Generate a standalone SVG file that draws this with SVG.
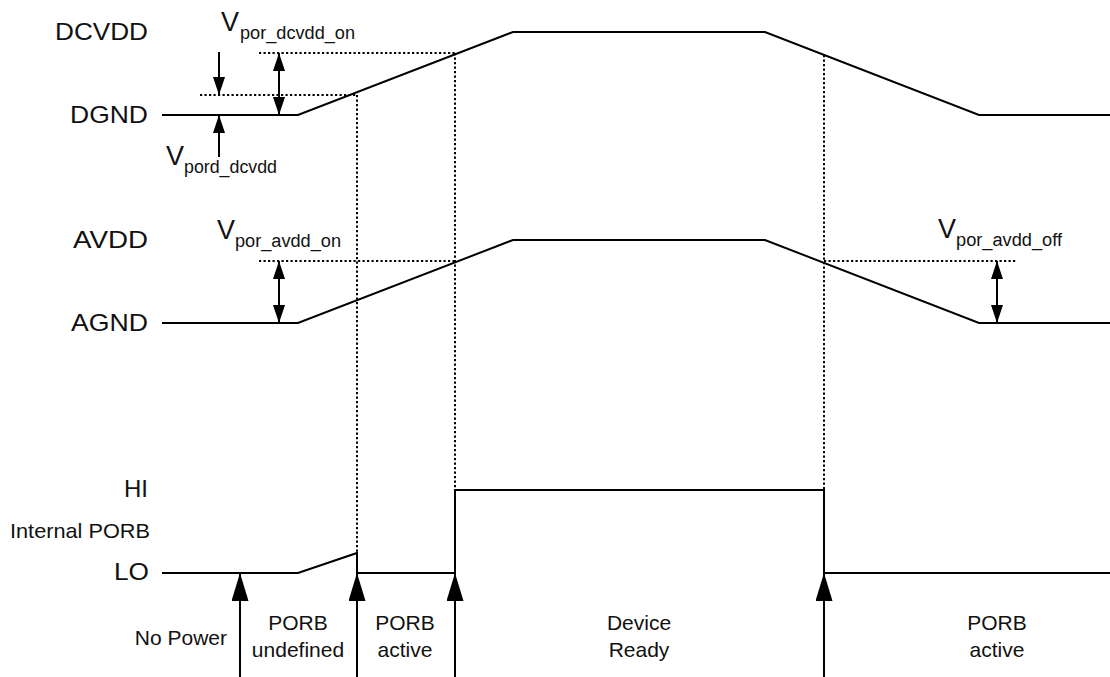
<svg xmlns="http://www.w3.org/2000/svg" width="1110" height="677" viewBox="0 0 1110 677">
<style>
  text { font-family: "Liberation Sans", Arial, sans-serif; fill: #111; }
  .lbl { font-size: 24px; }
  .sm { font-size: 21px; }
  .v { font-size: 27px; }
  .sub { font-size: 18px; }
  .sig { fill: none; stroke: #000; stroke-width: 2; stroke-linejoin: miter; }
  .dot { fill: none; stroke: #000; stroke-width: 2; stroke-dasharray: 2.2 2.3; }
  .arr { fill: none; stroke: #000; stroke-width: 2; }
</style>
<defs>
  <marker id="big" markerUnits="userSpaceOnUse" markerWidth="30" markerHeight="20" refX="28" refY="8.5" orient="auto">
    <path d="M0,0 L28,8.5 L0,17 z" fill="#000"/>
  </marker>
  <marker id="small" markerUnits="userSpaceOnUse" markerWidth="20" markerHeight="14" refX="18" refY="6" orient="auto-start-reverse">
    <path d="M0,0 L18,6 L0,12 z" fill="#000"/>
  </marker>
</defs>
<rect width="1110" height="677" fill="#fff"/>

<g id="connectors">
  <line class="dot" x1="259" y1="53" x2="455" y2="53"/>
  <line class="dot" x1="200" y1="95" x2="357" y2="95"/>
  <line class="dot" x1="259" y1="261" x2="455" y2="261"/>
  <line class="dot" x1="824" y1="261" x2="1017" y2="261"/>
  <line class="dot" x1="357" y1="95" x2="357" y2="553"/>
  <line class="dot" x1="455" y1="53" x2="455" y2="490"/>
  <line class="dot" x1="824" y1="55" x2="824" y2="490"/>
  <line class="arr" x1="219" y1="52" x2="219" y2="95" marker-end="url(#small)"/>
  <line class="arr" x1="219" y1="157" x2="219" y2="115" marker-end="url(#small)"/>
  <line class="arr" x1="279" y1="53" x2="279" y2="115" marker-start="url(#small)" marker-end="url(#small)"/>
  <line class="arr" x1="279" y1="261" x2="279" y2="323" marker-start="url(#small)" marker-end="url(#small)"/>
  <line class="arr" x1="997" y1="261" x2="997" y2="323" marker-start="url(#small)" marker-end="url(#small)"/>
  <line class="arr" x1="240" y1="677" x2="240" y2="573" marker-end="url(#big)"/>
  <line class="arr" x1="357" y1="677" x2="357" y2="573" marker-end="url(#big)"/>
  <line class="arr" x1="455" y1="677" x2="455" y2="573" marker-end="url(#big)"/>
  <line class="arr" x1="824" y1="677" x2="824" y2="573" marker-end="url(#big)"/>
</g>

<g id="dcvdd">
  <text class="lbl" x="148" y="40" text-anchor="end" textLength="93" lengthAdjust="spacingAndGlyphs">DCVDD</text>
  <text class="lbl" x="148" y="123" text-anchor="end" textLength="78" lengthAdjust="spacingAndGlyphs">DGND</text>
  <polyline class="sig" points="162,115 298,115 513,32 765,32 979,115 1110,115"/>
</g>

<g id="avdd">
  <text class="lbl" x="148" y="248" text-anchor="end" textLength="75" lengthAdjust="spacingAndGlyphs">AVDD</text>
  <text class="lbl" x="148" y="331" text-anchor="end" textLength="77" lengthAdjust="spacingAndGlyphs">AGND</text>
  <polyline class="sig" points="162,323 298,323 513,240 765,240 979,323 1110,323"/>
</g>

<g id="porb">
  <text class="lbl" x="148" y="497" text-anchor="end">HI</text>
  <text class="sm" x="150" y="538" text-anchor="end" textLength="140" lengthAdjust="spacingAndGlyphs">Internal PORB</text>
  <text class="lbl" x="149" y="580" text-anchor="end" textLength="35" lengthAdjust="spacingAndGlyphs">LO</text>
  <polyline class="sig" points="162,573 298,573 357,553 357,573 455,573 455,490 824,490 824,573 1110,573"/>
</g>

<g id="v-por-dcvdd-on">
  <text class="v" x="221" y="31">V</text>
  <text class="sub" x="240" y="39" textLength="115" lengthAdjust="spacingAndGlyphs">por_dcvdd_on</text>
</g>
<g id="v-pord-dcvdd">
  <text class="v" x="166" y="165">V</text>
  <text class="sub" x="184" y="173" textLength="93" lengthAdjust="spacingAndGlyphs">pord_dcvdd</text>
</g>
<g id="v-por-avdd-on">
  <text class="v" x="217" y="239">V</text>
  <text class="sub" x="235" y="247" textLength="106" lengthAdjust="spacingAndGlyphs">por_avdd_on</text>
</g>
<g id="v-por-avdd-off">
  <text class="v" x="938" y="238">V</text>
  <text class="sub" x="956" y="246" textLength="106" lengthAdjust="spacingAndGlyphs">por_avdd_off</text>
</g>

<g id="state-no-power">
  <text class="sm" x="227" y="645" text-anchor="end">No Power</text>
</g>
<g id="state-porb-undefined">
  <text class="sm" x="298" y="630" text-anchor="middle">PORB</text>
  <text class="sm" x="298" y="657" text-anchor="middle">undefined</text>
</g>
<g id="state-porb-active-1">
  <text class="sm" x="405" y="630" text-anchor="middle">PORB</text>
  <text class="sm" x="405" y="657" text-anchor="middle">active</text>
</g>
<g id="state-device-ready">
  <text class="sm" x="639" y="630" text-anchor="middle">Device</text>
  <text class="sm" x="639" y="657" text-anchor="middle">Ready</text>
</g>
<g id="state-porb-active-2">
  <text class="sm" x="997" y="630" text-anchor="middle">PORB</text>
  <text class="sm" x="997" y="657" text-anchor="middle">active</text>
</g>
</svg>
